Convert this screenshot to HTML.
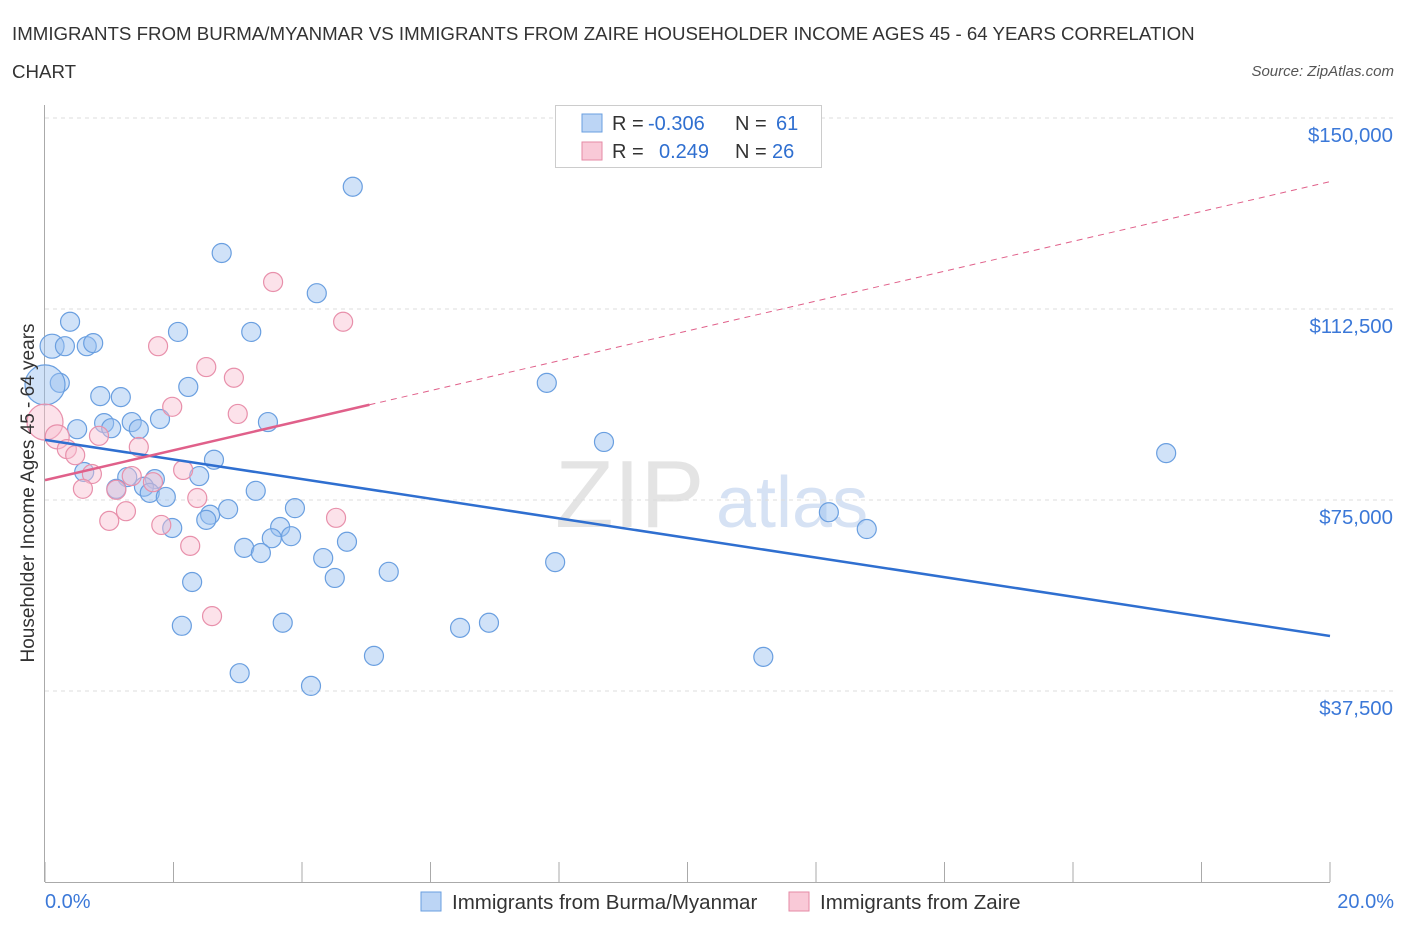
<!DOCTYPE html>
<html><head><meta charset="utf-8"><style>
body{margin:0;background:#fff;font-family:"Liberation Sans",sans-serif;}
svg text{font-family:"Liberation Sans",sans-serif;}
</style></head><body>
<svg width="1406" height="930" viewBox="0 0 1406 930">
<text x="12" y="40" font-size="18.7" fill="#333">IMMIGRANTS FROM BURMA/MYANMAR VS IMMIGRANTS FROM ZAIRE HOUSEHOLDER INCOME AGES 45 - 64 YEARS CORRELATION</text>
<text x="12" y="78" font-size="18.7" fill="#333">CHART</text>
<text x="1394" y="76" font-size="15" fill="#555" font-style="italic" text-anchor="end">Source: ZipAtlas.com</text>
<text x="555" y="527" font-size="96" fill="#e4e4e4" font-family="Liberation Serif">ZIP</text>
<text x="716" y="527" font-size="72" fill="#d6e2f4">atlas</text>
<g id="grid"></g>
<g id="axes"></g>
<g id="pts"></g>
<g id="lines"></g>
<text transform="translate(34,493) rotate(-90)" font-size="19" fill="#333" text-anchor="middle">Householder Income Ages 45 - 64 years</text>
<g>
<rect x="555.5" y="105.5" width="266" height="62" fill="#fff" stroke="#ccc"/>
<rect x="582" y="114" width="20" height="18" fill="#bcd5f5" stroke="#6a9fe0"/>
<rect x="582" y="142" width="20" height="18" fill="#f9c9d7" stroke="#e58aa6"/>
<text x="612" y="130" font-size="20" fill="#333">R =</text>
<text x="648" y="130" font-size="20" fill="#2f6fd0">-0.306</text>
<text x="735" y="130" font-size="20" fill="#333">N =</text>
<text x="776" y="130" font-size="20" fill="#2f6fd0">61</text>
<text x="612" y="158" font-size="20" fill="#333">R =</text>
<text x="659" y="158" font-size="20" fill="#2f6fd0">0.249</text>
<text x="735" y="158" font-size="20" fill="#333">N =</text>
<text x="772" y="158" font-size="20" fill="#2f6fd0">26</text>
</g>
<g>
<rect x="421" y="892" width="20" height="19" fill="#bcd5f5" stroke="#6a9fe0"/>
<text x="452" y="909" font-size="20.5" fill="#333">Immigrants from Burma/Myanmar</text>
<rect x="789" y="892" width="20" height="19" fill="#f9c9d7" stroke="#e58aa6"/>
<text x="820" y="909" font-size="20.5" fill="#333">Immigrants from Zaire</text>
</g>
</svg>
<script>
const yTicks=[37500,75000,112500,150000];
const yTickLabels=["$37,500","$75,000","$112,500","$150,000"];
const xTickLabels=["0.0%","20.0%"];
const blueX=[4.79,2.75,4.23,0.39,2.07,3.21,0.11,0.31,0.65,0.75,0.23,0.0,2.23,0.86,1.18,7.81,0.92,1.35,1.79,3.47,0.50,1.03,1.46,8.70,17.45,2.63,0.61,1.28,2.40,1.71,1.54,1.11,1.63,3.28,1.88,2.85,3.89,2.57,2.51,1.98,3.66,3.53,3.83,3.10,3.36,4.70,12.20,12.79,4.33,7.94,5.35,4.51,2.29,2.13,3.70,6.46,6.91,5.12,11.18,3.03,4.14];
const blueY=[136.5,123.5,115.6,110.0,108.0,108.0,105.2,105.2,105.2,105.8,98.0,97.6,97.2,95.4,95.2,98.0,90.1,90.3,90.9,90.3,88.9,89.1,88.9,86.4,84.2,82.9,80.5,79.5,79.7,79.1,77.6,77.2,76.4,76.8,75.6,73.2,73.4,72.1,71.1,69.5,69.7,67.5,67.9,65.6,64.6,66.8,72.6,69.3,63.6,62.8,60.9,59.7,58.9,50.3,50.9,49.9,50.9,44.4,44.2,41.0,38.5];
const blueR=[9.5,9.5,9.5,9.5,9.5,9.5,12,9.5,9.5,9.5,9.5,20,9.5,9.5,9.5,9.5,9.5,9.5,9.5,9.5,9.5,9.5,9.5,9.5,9.5,9.5,9.5,9.5,9.5,9.5,9.5,9.5,9.5,9.5,9.5,9.5,9.5,9.5,9.5,9.5,9.5,9.5,9.5,9.5,9.5,9.5,9.5,9.5,9.5,9.5,9.5,9.5,9.5,9.5,9.5,9.5,9.5,9.5,9.5,9.5,9.5];
const pinkX=[3.55,4.64,1.76,2.51,2.94,1.98,3.00,0.0,0.19,0.84,0.34,0.47,1.46,0.73,1.35,1.68,2.15,0.59,1.11,2.37,1.26,1.00,1.81,4.53,2.26,2.60];
const pinkY=[117.8,110.0,105.2,101.1,99.0,93.3,91.9,90.3,87.4,87.6,85.0,83.8,85.4,80.1,79.7,78.5,80.9,77.2,77.0,75.4,72.8,70.9,70.1,71.5,66.0,52.2];
const pinkR=[9.5,9.5,9.5,9.5,9.5,9.5,9.5,18,12,9.5,9.5,9.5,9.5,9.5,9.5,9.5,9.5,9.5,9.5,9.5,9.5,9.5,9.5,9.5,9.5,9.5];
const blueTrend=[86.8,48.3];
const pinkTrend=[78.9,137.5];
const pinkSolidEnd=5.05;
const NS="http://www.w3.org/2000/svg";
const X=v=>45+v/20*1285;
const Y=v=>882-v/37.5*191;
function mk(tag,attrs,parent){const e=document.createElementNS(NS,tag);for(const k in attrs)e.setAttribute(k,attrs[k]);document.getElementById(parent).appendChild(e);return e;}
yTicks.forEach((t,i)=>{
 const g=mk('line',{x1:45,x2:1394,y1:Y(t/1000),y2:Y(t/1000),stroke:'#ddd','stroke-dasharray':'4,4'},'grid');
 
 
 const l=mk('text',{x:1393,y:Y(t/1000)+24,'font-size':20.4,fill:'#3b78d8','text-anchor':'end'},'axes');
 l.textContent=yTickLabels[i];
 
 
});
const ya=mk('line',{x1:44.5,x2:44.5,y1:105,y2:882,stroke:'#aaa'},'axes');


const xa=mk('line',{x1:45,x2:1330,y1:882.5,y2:882.5,stroke:'#aaa'},'axes');


for(let i=0;i<=10;i++){
 const t=mk('line',{x1:X(i*2),x2:X(i*2),y1:862,y2:882,stroke:'#aaa'},'axes');
 
 
}
[[0,'start',45],[20,'end',1394]].forEach((d,i)=>{
 const l=mk('text',{x:d[2],y:908,'font-size':20,fill:'#3b78d8','text-anchor':d[1]},'axes');
 l.textContent=xTickLabels[i];
 
 
});
blueX.forEach((v,i)=>{
 const c=mk('circle',{cx:X(v),cy:Y(blueY[i]),r:blueR[i],fill:'rgba(150,190,240,0.45)',stroke:'#6a9fe0','stroke-width':1.2},'pts');
 
 
});
pinkX.forEach((v,i)=>{
 const c=mk('circle',{cx:X(v),cy:Y(pinkY[i]),r:pinkR[i],fill:'rgba(248,190,208,0.45)',stroke:'#e890ab','stroke-width':1.2},'pts');
 
 
});
const bl=mk('line',{x1:X(0),y1:Y(blueTrend[0]),x2:X(20),y2:Y(blueTrend[1]),stroke:'#2f6fd0','stroke-width':2.5},'lines');


const pAt=x=>pinkTrend[0]+(pinkTrend[1]-pinkTrend[0])*x/20;
const pl=mk('line',{x1:X(0),y1:Y(pinkTrend[0]),x2:X(pinkSolidEnd),y2:Y(pAt(pinkSolidEnd)),stroke:'#e0608a','stroke-width':2.5},'lines');


const pd=mk('line',{x1:X(pinkSolidEnd),y1:Y(pAt(pinkSolidEnd)),x2:X(20),y2:Y(pinkTrend[1]),stroke:'#e0608a','stroke-width':1,'stroke-dasharray':'6,5'},'lines');


</script>
</body></html>
